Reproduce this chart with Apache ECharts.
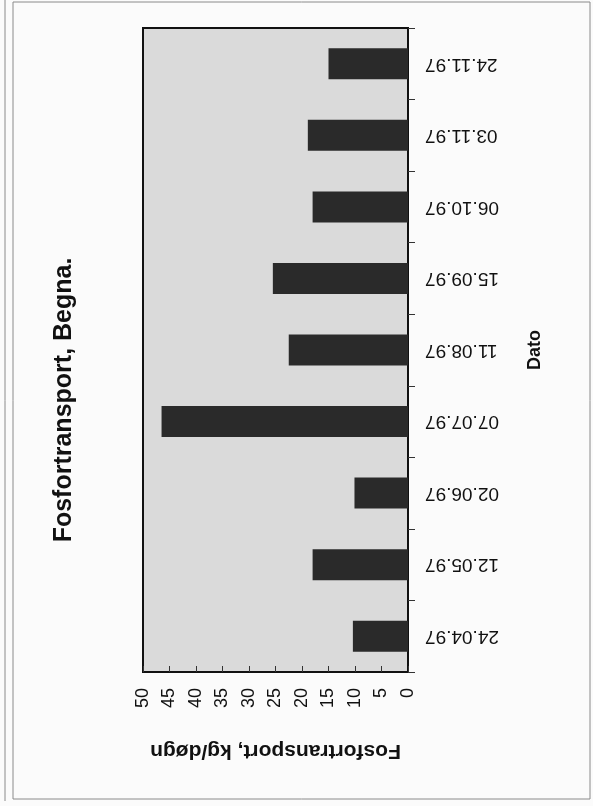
<!DOCTYPE html>
<html>
<head>
<meta charset="utf-8">
<title>Fosfortransport, Begna.</title>
<script src="https://cdn.jsdelivr.net/npm/echarts@6/dist/echarts.min.js"></script>
<style>
  html, body { margin: 0; padding: 0; background: #fbfbfb; }
  #chart { width: 593px; height: 806px; }
</style>
</head>
<body>
<div id="chart"></div>
<script>
// Sampling dates (1997) and phosphorus transport in kg per day
const dates = ['24.04.97', '12.05.97', '02.06.97', '07.07.97', '11.08.97', '15.09.97', '06.10.97', '03.11.97', '24.11.97'];
const transport = [10.4, 18.0, 10.1, 46.5, 22.5, 25.5, 18.0, 18.9, 15.0];
const valueTicks = [0, 5, 10, 15, 20, 25, 30, 35, 40, 45, 50];

const titleText = 'Fosfortransport, Begna.';
const valueName = 'Fosfortransport, kg/døgn';
const dateName = 'Dato';

const FONT = 'Arial, "Liberation Sans", Helvetica, sans-serif';

const chart = echarts.init(document.getElementById('chart'), null, { renderer: 'canvas' });

chart.setOption({
  backgroundColor: '#fbfbfb',
  animation: false,
  grid: {
    left: 143, right: 185, top: 28, bottom: 134,
    show: true,
    backgroundColor: '#dadada',
    borderColor: '#111',
    borderWidth: 2
  },
  // The page is turned a quarter turn: values run right-to-left along the bottom
  xAxis: {
    type: 'value',
    inverse: true,
    min: valueTicks[0],
    max: valueTicks[valueTicks.length - 1],
    interval: valueTicks[1] - valueTicks[0],
    position: 'bottom',
    axisLine: { show: true, lineStyle: { color: '#111', width: 2 } },
    axisTick: { show: true, inside: true, length: 6, lineStyle: { color: '#333' } },
    splitLine: { show: false },
    axisLabel: {
      rotate: 90,
      margin: 16,
      fontFamily: FONT,
      fontSize: 18,
      color: '#111'
    },
    name: valueName,
    nameLocation: 'middle',
    nameRotate: 180,
    nameGap: 68,
    nameTextStyle: { fontFamily: FONT, fontSize: 21, fontWeight: 'bold', color: '#111' }
  },
  yAxis: {
    type: 'category',
    data: dates,
    position: 'right',
    axisLine: { show: true, lineStyle: { color: '#111', width: 2 } },
    axisTick: { show: true, length: 7, lineStyle: { color: '#333' } },
    axisLabel: {
      rotate: 180,
      margin: 17,
      fontFamily: FONT,
      fontSize: 19,
      color: '#111'
    },
    name: dateName,
    nameLocation: 'middle',
    nameRotate: 90,
    nameGap: 118,
    nameTextStyle: { fontFamily: FONT, fontSize: 18, fontWeight: 'bold', color: '#111' }
  },
  series: [{
    type: 'bar',
    data: transport,
    barWidth: 31,
    itemStyle: { color: '#2a2a2a' }
  }],
  graphic: [
    // page frame
    { type: 'line', shape: { x1: 5, y1: 0, x2: 5, y2: 801 }, style: { stroke: '#8a8a8a', lineWidth: 1 } },
    { type: 'rect', shape: { x: 13, y: 2, width: 577, height: 797 }, style: { fill: null, stroke: '#8a8a8a', lineWidth: 1 } },
    // chart title, written along the left edge
    {
      type: 'text',
      x: 64, y: 400,
      rotation: Math.PI / 2,
      style: {
        text: titleText,
        font: 'bold 25px ' + FONT,
        fill: '#111',
        align: 'center',
        verticalAlign: 'middle'
      }
    }
  ]
});
</script>
</body>
</html>
